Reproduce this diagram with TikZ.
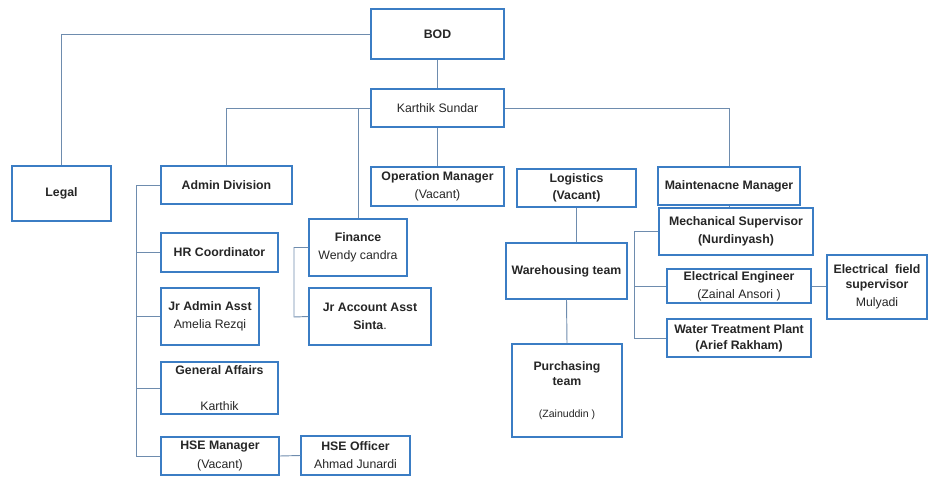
\documentclass[tikz,border=0pt]{standalone}
\usepackage{fontspec}
\setmainfont{Liberation Sans}
\definecolor{boxblue}{HTML}{3B7DC4}
\definecolor{linkgray}{HTML}{6E8CAE}
\definecolor{txtgray}{HTML}{262626}
\tikzset{
    box/.style={draw=boxblue, line width=1.2pt, fill=white, align=center, inner sep=1pt,
        text=txtgray, font=\fontsize{10.5}{15.5}\selectfont},
    link/.style={draw=linkgray, line width=0.8pt},
}
\begin{document}
\begin{tikzpicture}[x=0.03cm, y=-0.03cm]
    \useasboundingbox (0,0) rectangle (928,477);
    % top
    \node[box, minimum width=3.99cm, minimum height=1.5cm] (bod) at (437.5,34) {\textbf{BOD}};
    \node[box, minimum width=3.99cm, minimum height=1.14cm] (karthik) at (437.5,108) {Karthik Sundar};
    \node[box, minimum width=2.97cm, minimum height=1.65cm] (legal) at (61.5,193.5) {\textbf{Legal}};
    % second row
    \node[box, minimum width=3.93cm, minimum height=1.14cm] (admin) at (226.5,185) {\textbf{Admin Division}};
    \node[box, minimum width=3.99cm, minimum height=1.17cm] (opman) at (437.5,186.5) {\textbf{Operation Manager}\\(Vacant)};
    \node[box, minimum width=3.57cm, minimum height=1.14cm] (logistics) at (576.5,188) {\textbf{Logistics}\\[-1pt]\textbf{(Vacant)}};
    \node[box, minimum width=4.26cm, minimum height=1.14cm] (maint) at (729,186) {\textbf{Maintenacne Manager}};
    % admin division
    \node[box, minimum width=3.51cm, minimum height=1.17cm] (hr) at (219.5,252.5) {\textbf{HR Coordinator}};
    \node[box, minimum width=2.94cm, minimum height=1.71cm] (jradmin) at (210,316.5) {\textbf{Jr Admin Asst}\\Amelia Rezqi};
    \node[box, minimum width=3.51cm, minimum height=1.56cm] (general) at (219.5,388) {\textbf{General Affairs}\\[15pt]Karthik};
    \node[box, minimum width=3.54cm, minimum height=1.14cm] (hsem) at (220,456) {\textbf{HSE Manager}\\(Vacant)};
    \node[box, minimum width=3.27cm, minimum height=1.17cm] (hseo) at (355.5,455.5) {\textbf{HSE Officer}\\Ahmad Junardi};
    % finance
    \node[box, minimum width=2.94cm, minimum height=1.71cm] (finance) at (358,247.5) {\textbf{Finance}\\Wendy candra};
    \node[box, minimum width=3.66cm, minimum height=1.71cm] (jracc) at (370,316.5) {\textbf{Jr Account Asst}\\\textbf{Sinta}.};
    % logistics
    \node[box, minimum width=3.63cm, minimum height=1.68cm] (warehouse) at (566.5,271) {\textbf{Warehousing team}};
    \node[box, minimum width=3.3cm, minimum height=2.79cm] (purchasing) at (567,390.5) {\textbf{Purchasing}\\[-3pt]\textbf{team}\\[12pt]{\small(Zainuddin )}};
    % maintenance
    \node[box, minimum width=4.62cm, minimum height=1.41cm] (mech) at (736,231.5) {\textbf{Mechanical Supervisor}\\\textbf{(Nurdinyash)}};
    \node[box, minimum width=4.32cm, minimum height=1.02cm] (eleceng) at (739,286) {\textbf{Electrical Engineer}\\(Zainal Ansori )};
    \node[box, minimum width=3.0cm, minimum height=1.92cm] (elecfield) at (877,287) {\textbf{Electrical\ \ field}\\[-3pt]\textbf{supervisor}\\Mulyadi};
    \node[box, minimum width=4.32cm, minimum height=1.14cm] (water) at (739,338) {\textbf{Water Treatment Plant}\\[-2pt]\textbf{(Arief Rakham)}};
    % connectors
    \draw[link] (bod.west) -| (legal.north);
    \draw[link] (bod.south) -- (karthik.north);
    \draw[link] (karthik.west) -| (admin.north);
    \draw[link] (karthik.west -| finance.north) -- (finance.north);
    \draw[link] (karthik.south) -- (opman.north);
    \draw[link] (karthik.east) -| (maint.north);
    \draw[link] (maint.south) -- (maint.south |- mech.north);
    \coordinate (abus) at (136,456);
    \draw[link] (admin.west) -| (abus) -- (hsem.west);
    \foreach \n in {hr,jradmin,general} {
        \draw[link] (\n.west) -- (\n.west -| abus);
    }
    \draw[link] (hsem.east) -- (hseo.west);
    \coordinate (fbus) at (294,317);
    \draw[link] (finance.west) -| (fbus) -- (jracc.west);
    \draw[link] (logistics.south) -- (logistics.south |- warehouse.north);
    \draw[link] (warehouse.south) -- (purchasing.north);
    \coordinate (mbus) at (634,338);
    \draw[link] (mech.west) -| (mbus) -- (water.west);
    \draw[link] (eleceng.west) -- (eleceng.west -| mbus);
    \draw[link] (eleceng.east) -- (eleceng.east -| elecfield.west);
\end{tikzpicture}
\end{document}
